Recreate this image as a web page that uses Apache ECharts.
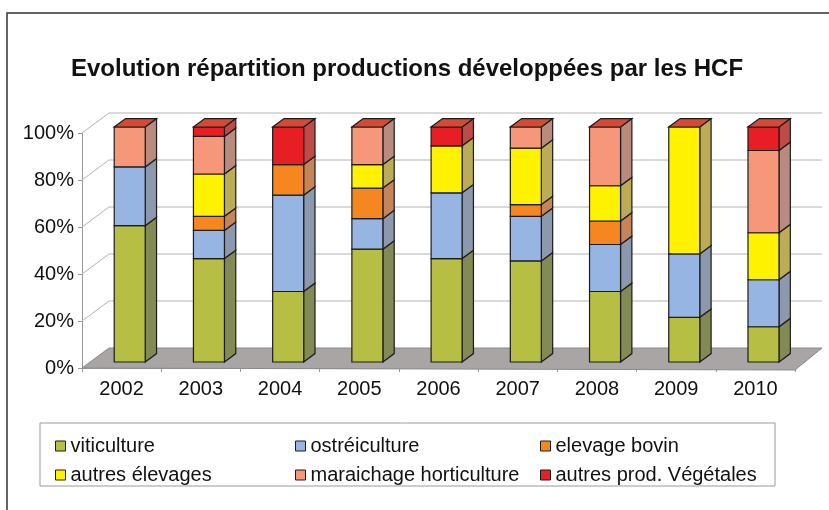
<!DOCTYPE html>
<html>
<head>
<meta charset="utf-8">
<script src="https://cdn.jsdelivr.net/npm/echarts@6/dist/echarts.min.js"></script>
<style>
  html, body { margin: 0; padding: 0; background: #fff; }
  #chart { width: 829px; height: 510px; }
</style>
</head>
<body>
<div id="chart"></div>
<script>
// valeurs (en %)
const years = ['2002', '2003', '2004', '2005', '2006', '2007', '2008', '2009', '2010']
const viticulture = [58, 44, 30, 48, 44, 43, 30, 19, 15]
const ostreiculture = [25, 12, 41, 13, 28, 19, 20, 27, 20]
const elevageBovin = [0, 6, 13, 13, 0, 5, 10, 0, 0]
const autresElevages = [0, 18, 0, 10, 20, 24, 15, 54, 20]
const maraichage = [17, 16, 0, 16, 0, 9, 25, 0, 35]
const autresProd = [0, 4, 16, 0, 8, 0, 0, 0, 10]
const yTicks = [0, 20, 40, 60, 80, 100]

// pseudo 3D
const DEPTH = [27, -20]
const F0 = 0.3
const F1 = 0.72
const BAR_W = 31
const STROKE = '#1c1c1c'

const layers = [
  { name: 'viticulture', data: viticulture, front: '#b6bf43', side: '#838a55' },
  { name: 'ostréiculture', data: ostreiculture, front: '#97b5e2', side: '#8b98ae' },
  { name: 'elevage bovin', data: elevageBovin, front: '#f6861f', side: '#c6845a' },
  { name: 'autres élevages', data: autresElevages, front: '#fff200', side: '#bcac58' },
  { name: 'maraichage horticulture', data: maraichage, front: '#f7977a', side: '#b98a7e' },
  { name: 'autres prod. Végétales', data: autresProd, front: '#e81e25', side: '#c04a45' }
]

function barBox(api, i, lo, hi) {
  const b = api.coord([i, lo])
  const t = api.coord([i, hi])
  const xl = b[0] + DEPTH[0] * F0 - BAR_W / 2
  return {
    xl: xl,
    xr: xl + BAR_W,
    yb: b[1] + DEPTH[1] * F0,
    yt: t[1] + DEPTH[1] * F0,
    dx: DEPTH[0] * (F1 - F0),
    dy: DEPTH[1] * (F1 - F0)
  }
}

function makeRender(front, side) {
  return function(params, api) {
    const i = api.value(0)
    const lo = api.value(1)
    const hi = api.value(2)
    if (hi - lo <= 0) return
    const r = barBox(api, i, lo, hi)
    return {
      type: 'group',
      children: [
        {
          type: 'polygon',
          shape: { points: [[r.xr, r.yb], [r.xr + r.dx, r.yb + r.dy], [r.xr + r.dx, r.yt + r.dy], [r.xr, r.yt]] },
          style: { fill: side, stroke: STROKE, lineWidth: 1.2 }
        },
        {
          type: 'rect',
          shape: { x: r.xl, y: r.yt, width: BAR_W, height: r.yb - r.yt },
          style: { fill: front, stroke: STROKE, lineWidth: 1.2 }
        }
      ]
    }
  }
}

// murs, sol et lignes de grille
function renderWall(params, api) {
  const v = api.value(1)
  const p = api.coord([0, v])
  const cs = params.coordSys
  const x0 = cs.x
  const x1 = cs.x + cs.width
  const y = p[1]
  if (v === 0) {
    return {
      type: 'polygon',
      shape: { points: [[x0, y], [x1, y + 2], [x1 + DEPTH[0], y + DEPTH[1]], [x0 + DEPTH[0], y + DEPTH[1]]] },
      style: { fill: '#aaa5a5', stroke: '#8e8a8a', lineWidth: 1 }
    }
  }
  return {
    type: 'polyline',
    shape: { points: [[x0, y], [x0 + DEPTH[0], y + DEPTH[1]], [x1 + DEPTH[0], y + DEPTH[1]]] },
    style: { stroke: '#b4b4b4', lineWidth: 1, fill: null }
  }
}

function renderTop(params, api) {
  const r = barBox(api, api.value(0), 0, api.value(1))
  return {
    type: 'polygon',
    shape: { points: [[r.xl, r.yt], [r.xr, r.yt], [r.xr + r.dx, r.yt + r.dy], [r.xl + r.dx, r.yt + r.dy]] },
    style: { fill: '#d44a37', stroke: STROKE, lineWidth: 1.2 }
  }
}

const series = [
  {
    type: 'custom',
    silent: true,
    clip: false,
    z: 1,
    renderItem: renderWall,
    encode: { x: 0, y: 1 },
    data: yTicks.map(v => [0, v])
  }
]

const base = years.map(() => 0)
layers.forEach(l => {
  series.push({
    name: l.name,
    type: 'custom',
    clip: false,
    z: 3,
    renderItem: makeRender(l.front, l.side),
    itemStyle: { color: l.front, borderColor: STROKE, borderWidth: 1 },
    encode: { x: 0, y: [1, 2] },
    data: l.data.map((v, i) => {
      const lo = base[i]
      base[i] += v
      return [i, lo, base[i]]
    })
  })
})

series.push({
  type: 'custom',
  silent: true,
  clip: false,
  z: 3,
  renderItem: renderTop,
  encode: { x: 0, y: 1 },
  data: base.map((t, i) => [i, t])
})

function legendCol(left, names) {
  return {
    orient: 'vertical',
    left: left,
    top: 430,
    itemWidth: 10,
    itemHeight: 10,
    itemGap: 7,
    icon: 'rect',
    data: names,
    itemStyle: { borderColor: STROKE, borderWidth: 1 },
    textStyle: { fontFamily: 'Liberation Sans', fontSize: 20, color: '#111', lineHeight: 22 }
  }
}

const chart = echarts.init(document.getElementById('chart'))
chart.setOption({
  animation: false,
  backgroundColor: '#fff',
  title: {
    text: 'Evolution répartition productions développées par les HCF',
    left: 66,
    top: 52,
    textStyle: { fontFamily: 'Liberation Sans', fontWeight: 'bold', fontSize: 24, color: '#111' }
  },
  graphic: [
    {
      type: 'rect',
      shape: { x: 7, y: 13, width: 900, height: 600 },
      style: { fill: null, stroke: '#333', lineWidth: 1.5 }
    },
    {
      type: 'rect',
      shape: { x: 40, y: 423, width: 735, height: 63 },
      style: { fill: null, stroke: '#9a9a9a', lineWidth: 1 }
    }
  ],
  legend: [
    legendCol(50, ['viticulture', 'autres élevages']),
    legendCol(290, ['ostréiculture', 'maraichage horticulture']),
    legendCol(535, ['elevage bovin', 'autres prod. Végétales'])
  ],
  grid: { left: 82, right: 34, top: 133, bottom: 142 },
  xAxis: {
    type: 'category',
    data: years,
    axisLine: { lineStyle: { color: '#999' } },
    axisTick: { show: true, length: 4, lineStyle: { color: '#999' } },
    axisLabel: { fontFamily: 'Liberation Sans', fontSize: 20, color: '#111', margin: 11 }
  },
  yAxis: {
    type: 'value',
    min: 0,
    max: 100,
    interval: 20,
    axisLine: { show: true, lineStyle: { color: '#999' } },
    axisTick: { show: true, length: 4, lineStyle: { color: '#999' } },
    splitLine: { show: false },
    axisLabel: { formatter: '{value}%', fontFamily: 'Liberation Sans', fontSize: 20, color: '#111', margin: 8 }
  },
  series: series
})
</script>
</body>
</html>
